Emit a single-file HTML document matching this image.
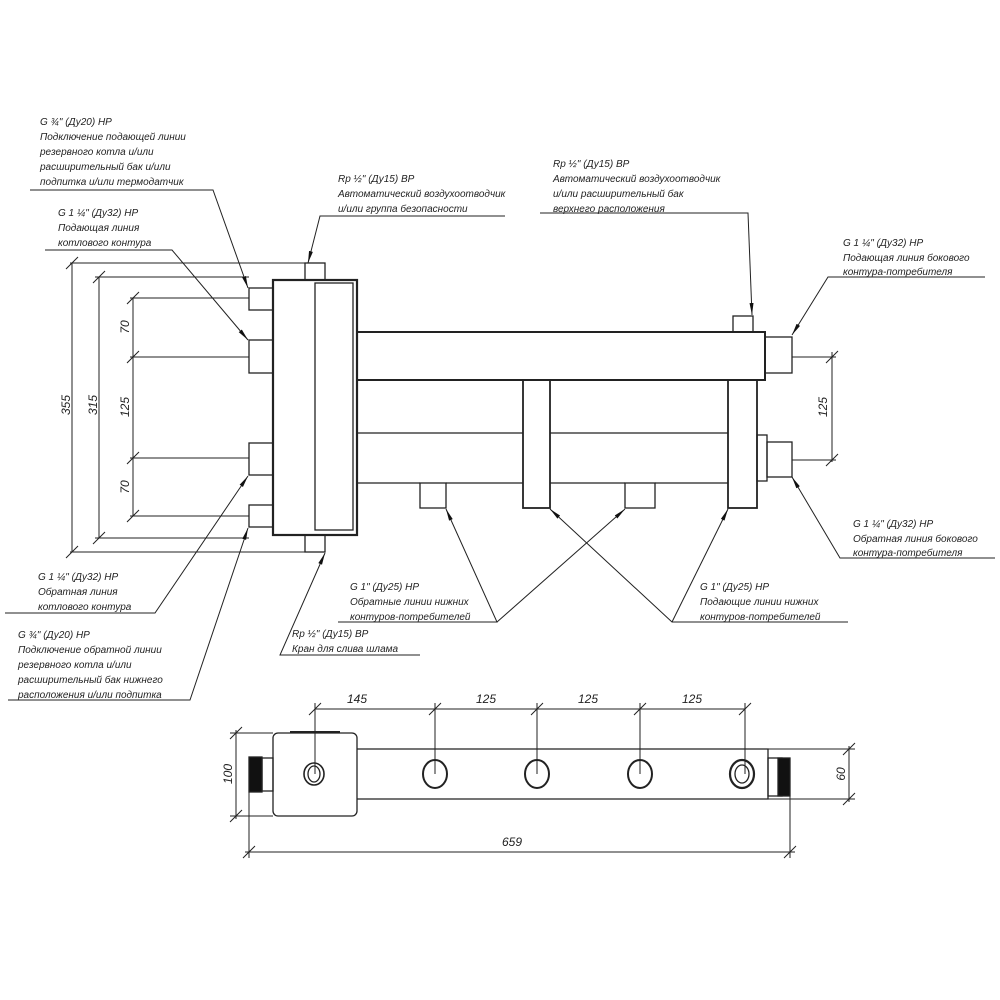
<!DOCTYPE html>
<html><head><meta charset="utf-8"><style>
html,body{margin:0;padding:0;background:#fff}
svg{display:block}
text{font-family:"Liberation Sans",sans-serif;font-style:italic;font-size:10px;fill:#222}
.d{font-size:12px}
</style></head><body>
<svg width="1000" height="1000" viewBox="0 0 1000 1000" xmlns="http://www.w3.org/2000/svg">
<defs>
<marker id="a" viewBox="0 0 12 6" refX="12" refY="3" markerWidth="12" markerHeight="6" orient="auto" markerUnits="userSpaceOnUse"><path d="M0,1 L12,3 L0,5z" fill="#111"/></marker>
</defs>
<g fill="none" stroke="#222" stroke-width="1.3">
<!-- left header block -->
<rect x="273" y="280" width="84" height="255" stroke-width="2.2"/>
<rect x="315" y="283" width="38" height="247"/>
<rect x="305" y="263" width="20" height="17"/>
<rect x="305" y="535" width="20" height="17"/>
<!-- left nozzles -->
<rect x="249" y="288" width="24" height="22"/>
<rect x="249" y="340" width="24" height="33"/>
<rect x="249" y="443" width="24" height="32"/>
<rect x="249" y="505" width="24" height="22"/>
<!-- pipes -->
<path d="M357 332 H765 V380 H357" stroke-width="2"/>
<path d="M357 433 H523 M550 433 H728 M357 483 H420 M446 483 H523 M550 483 H625 M655 483 H728"/>
<rect x="523" y="380" width="27" height="128" stroke-width="1.8"/>
<rect x="728" y="380" width="29" height="128" stroke-width="1.8"/>
<rect x="420" y="483" width="26" height="25"/>
<rect x="625" y="483" width="30" height="25"/>
<rect x="733" y="316" width="20" height="16"/>
<rect x="765" y="337" width="27" height="36"/>
<rect x="757" y="435" width="10" height="46"/>
<rect x="767" y="442" width="25" height="35"/>
<!-- dimension lines -->
<g stroke-width="1">
<path d="M70 263 H305 M95 277 H249 M130 298 H249 M130 357 H249 M130 458 H249 M130 516 H249 M70 552 H305 M95 538 H249"/>
<path d="M72 263 V552 M99 277 V538 M133 298 V516"/>
<path d="M792 357 H836 M792 460 H836 M832 352 V462"/>
<path d="M66 269 L78 257 M66 558 L78 546 M93 283 L105 271 M93 544 L105 532 M127 304 L139 292 M127 363 L139 351 M127 464 L139 452 M127 522 L139 510 M826 363 L838 351 M826 466 L838 454"/>
</g>
<!-- leaders -->
<g stroke-width="1">
<path d="M30 190 H213 L248 288" marker-end="url(#a)"/>
<path d="M45 250 H172 L248 340" marker-end="url(#a)"/>
<path d="M505 216 H320 L308 263" marker-end="url(#a)"/>
<path d="M540 213 H748 L752 315" marker-end="url(#a)"/>
<path d="M985 277 H828 L792 335" marker-end="url(#a)"/>
<path d="M995 558 H840 L792 477" marker-end="url(#a)"/>
<path d="M5 613 H155 L248 476" marker-end="url(#a)"/>
<path d="M8 700 H190 L248 528" marker-end="url(#a)"/>
<path d="M420 655 H280 L325 553" marker-end="url(#a)"/>
<path d="M338 622 H497 L446 509" marker-end="url(#a)"/>
<path d="M497 622 L625 509" marker-end="url(#a)"/>
<path d="M848 622 H672 L550 509" marker-end="url(#a)"/>
<path d="M672 622 L728 509" marker-end="url(#a)"/>
</g>
<!-- bottom view -->
<rect x="273" y="733" width="84" height="83" rx="5"/>
<path d="M290 732 H340" stroke-width="2"/>
<path d="M357 749 H768 V799 H357"/>
<rect x="262" y="758" width="11" height="33"/>
<rect x="768" y="758" width="14" height="38"/>
<rect x="249" y="757" width="13" height="35" fill="#111"/>
<rect x="778" y="758" width="12" height="38" fill="#111"/>
<ellipse cx="314" cy="774" rx="10" ry="11" stroke-width="1.6"/><ellipse cx="314" cy="774" rx="6" ry="8"/>
<ellipse cx="435" cy="774" rx="12" ry="14" stroke-width="2"/>
<ellipse cx="537" cy="774" rx="12" ry="14" stroke-width="2"/>
<ellipse cx="640" cy="774" rx="12" ry="14" stroke-width="2"/>
<ellipse cx="742" cy="774" rx="12" ry="14" stroke-width="2.2"/><ellipse cx="742" cy="774" rx="7" ry="9"/>
<g stroke-width="1">
<path d="M315 709 H745 M315 703 V774 M435 703 V774 M537 703 V774 M640 703 V774 M745 703 V774"/>
<path d="M309 715 L321 703 M429 715 L441 703 M531 715 L543 703 M634 715 L646 703 M739 715 L751 703"/>
<path d="M230 733 H273 M230 816 H273 M236 730 V819 M230 739 L242 727 M230 822 L242 810"/>
<path d="M768 749 H855 M768 799 H855 M849 746 V802 M843 755 L855 743 M843 805 L855 793"/>
<path d="M249 792 V858 M790 796 V858 M245 852 H795 M243 858 L255 846 M784 858 L796 846"/>
</g>
</g>
<!-- text -->
<text x="40" y="125">G ¾" (Ду20) НР</text>
<text x="40" y="140">Подключение подающей линии</text>
<text x="40" y="155">резервного котла и/или</text>
<text x="40" y="170">расширительный бак и/или</text>
<text x="40" y="185">подпитка и/или термодатчик</text>
<text x="58" y="216">G 1 ¼" (Ду32) НР</text>
<text x="58" y="231">Подающая линия</text>
<text x="58" y="246">котлового контура</text>
<text x="338" y="182">Rp ½" (Ду15) ВР</text>
<text x="338" y="197">Автоматический воздухоотводчик</text>
<text x="338" y="212">и/или группа безопасности</text>
<text x="553" y="167">Rp ½" (Ду15) ВР</text>
<text x="553" y="182">Автоматический воздухоотводчик</text>
<text x="553" y="197">и/или расширительный бак</text>
<text x="553" y="212">верхнего расположения</text>
<text x="843" y="246">G 1 ¼" (Ду32) НР</text>
<text x="843" y="261">Подающая линия бокового</text>
<text x="843" y="275">контура-потребителя</text>
<text x="853" y="527">G 1 ¼" (Ду32) НР</text>
<text x="853" y="542">Обратная линия бокового</text>
<text x="853" y="556">контура-потребителя</text>
<text x="38" y="580">G 1 ¼" (Ду32) НР</text>
<text x="38" y="595">Обратная линия</text>
<text x="38" y="610">котлового контура</text>
<text x="18" y="638">G ¾" (Ду20) НР</text>
<text x="18" y="653">Подключение обратной линии</text>
<text x="18" y="668">резервного котла и/или</text>
<text x="18" y="683">расширительный бак нижнего</text>
<text x="18" y="698">расположения и/или подпитка</text>
<text x="350" y="590">G 1" (Ду25) НР</text>
<text x="350" y="605">Обратные линии нижних</text>
<text x="350" y="620">контуров-потребителей</text>
<text x="292" y="637">Rp ½" (Ду15) ВР</text>
<text x="292" y="652">Кран для слива шлама</text>
<text x="700" y="590">G 1" (Ду25) НР</text>
<text x="700" y="605">Подающие линии нижних</text>
<text x="700" y="620">контуров-потребителей</text>
<text class="d" transform="translate(70,405) rotate(-90)" text-anchor="middle">355</text>
<text class="d" transform="translate(97,405) rotate(-90)" text-anchor="middle">315</text>
<text class="d" transform="translate(129,327) rotate(-90)" text-anchor="middle">70</text>
<text class="d" transform="translate(129,407) rotate(-90)" text-anchor="middle">125</text>
<text class="d" transform="translate(129,487) rotate(-90)" text-anchor="middle">70</text>
<text class="d" transform="translate(827,407) rotate(-90)" text-anchor="middle">125</text>
<text class="d" transform="translate(232,774) rotate(-90)" text-anchor="middle">100</text>
<text class="d" transform="translate(845,774) rotate(-90)" text-anchor="middle">60</text>
<text class="d" x="357" y="703" text-anchor="middle">145</text>
<text class="d" x="486" y="703" text-anchor="middle">125</text>
<text class="d" x="588" y="703" text-anchor="middle">125</text>
<text class="d" x="692" y="703" text-anchor="middle">125</text>
<text class="d" x="512" y="846" text-anchor="middle">659</text>
</svg>
</body></html>
